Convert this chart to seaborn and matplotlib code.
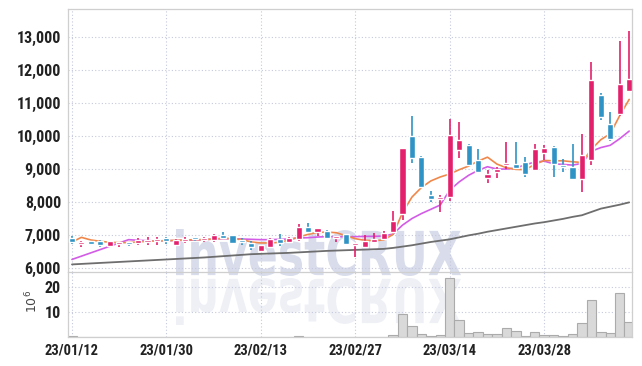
import numpy as np
import pandas as pd
import matplotlib
matplotlib.use('Agg')
import matplotlib.pyplot as plt
import seaborn as sns
from matplotlib import font_manager
from matplotlib.textpath import TextPath
from matplotlib.patches import PathPatch
from matplotlib.font_manager import FontProperties
from matplotlib.transforms import Affine2D

# --- data (KRW, volume in millions) ---
dates = ['23/01/12', '23/01/13', '23/01/16', '23/01/17', '23/01/18', '23/01/19', '23/01/20',
         '23/01/25', '23/01/26', '23/01/27', '23/01/30', '23/01/31', '23/02/01', '23/02/02',
         '23/02/03', '23/02/06', '23/02/07', '23/02/08', '23/02/09', '23/02/10', '23/02/13',
         '23/02/14', '23/02/15', '23/02/16', '23/02/17', '23/02/20', '23/02/21', '23/02/22',
         '23/02/23', '23/02/24', '23/02/27', '23/02/28', '23/03/02', '23/03/03', '23/03/06',
         '23/03/07', '23/03/08', '23/03/09', '23/03/10', '23/03/13', '23/03/14', '23/03/15',
         '23/03/16', '23/03/17', '23/03/20', '23/03/21', '23/03/22', '23/03/23', '23/03/24',
         '23/03/27', '23/03/28', '23/03/29', '23/03/30', '23/03/31', '23/04/03', '23/04/04',
         '23/04/05', '23/04/06', '23/04/07', '23/04/10']

opens = [6920, 6740, 6810, 6820, 6660, 6720, 6780, 6750, 6800, 6820,
         6900, 6700, 6830, 6900, 6850, 6860, 7000, 7000, 6840, 6770,
         6530, 6630, 6880, 6780, 6880, 7240, 7100, 7120, 6900, 7020,
         6690, 6650, 6800, 6870, 7100, 7630, 10000, 9380, 8210, 8080,
         8160, 9580, 9730, 9270, 8740, 8900, 9130, 9140, 9220, 8970,
         9480, 9660, 9120, 9070, 8700, 9270, 11240, 10380, 10670, 11380]
highs = [6980, 6820, 6830, 6850, 6820, 6800, 6800, 6900, 6950, 6940,
         6940, 6880, 6940, 6940, 6940, 7020, 7080, 7010, 6900, 6820,
         6710, 6900, 7020, 6940, 7320, 7380, 7220, 7150, 6970, 7020,
         6720, 7000, 7050, 7130, 7730, 9630, 10600, 9400, 8330, 8210,
         10530, 10430, 9750, 9600, 8970, 9070, 9810, 9810, 9370, 9750,
         9730, 9700, 9290, 9750, 10050, 12230, 11290, 10740, 12880, 13180]
lows = [6740, 6650, 6700, 6650, 6640, 6650, 6680, 6700, 6700, 6700,
        6720, 6680, 6750, 6820, 6780, 6800, 6870, 6740, 6700, 6550,
        6500, 6600, 6680, 6760, 6820, 7080, 6980, 6880, 6780, 6700,
        6340, 6600, 6800, 6870, 7070, 7460, 9190, 8460, 8010, 7710,
        8040, 9320, 9090, 8890, 8590, 8720, 9000, 9000, 8770, 8940,
        9270, 8770, 8920, 8700, 8310, 9120, 10490, 9860, 10620, 11340]
closes = [6800, 6780, 6740, 6700, 6810, 6760, 6720, 6850, 6850, 6840,
          6820, 6860, 6860, 6870, 6870, 6990, 6920, 6750, 6780, 6630,
          6700, 6880, 6770, 6920, 7250, 7100, 7200, 6900, 6940, 6720,
          6720, 6830, 6890, 7050, 7420, 9630, 9340, 8470, 8090, 8130,
          10030, 9880, 9120, 8920, 8850, 9000, 9160, 9020, 8840, 9600,
          9650, 9140, 9050, 8700, 9420, 11700, 10590, 9910, 11570, 11730]

ma5 = [6790, 6930, 6850, 6810, 6780, 6770, 6770, 6790, 6810, 6820,
       6830, 6840, 6850, 6860, 6860, 6880, 6900, 6890, 6860, 6790,
       6760, 6760, 6780, 6850, 6940, 7020, 7080, 7090, 7070, 6980,
       6890, 6840, 6830, 6850, 7020, 7680, 8150, 8440, 8640, 8760,
       8850, 8980, 9090, 9240, 9360, 9150, 9040, 8990, 8980, 9140,
       9260, 9250, 9250, 9220, 9200, 9600, 9890, 10070, 10620, 11110]
ma10 = [6260, 6360, 6460, 6560, 6660, 6760, 6860, 6840, 6830, 6820,
        6830, 6830, 6840, 6850, 6860, 6880, 6890, 6890, 6880, 6870,
        6860, 6860, 6870, 6880, 6910, 6920, 6940, 6950, 6950, 6950,
        6950, 6960, 6960, 6970, 7030, 7300, 7500, 7650, 7780, 7910,
        8360, 8610, 8810, 8960, 9070, 9000, 9000, 9030, 9130, 9210,
        9240, 9160, 9140, 9120, 9170, 9540, 9650, 9720, 9920, 10150]
ma_long = [6110, 6125, 6140, 6155, 6170, 6185, 6200, 6215, 6230, 6245,
           6260, 6275, 6290, 6305, 6320, 6340, 6360, 6380, 6400, 6420,
           6430, 6440, 6450, 6460, 6475, 6490, 6505, 6520, 6530, 6540,
           6550, 6560, 6570, 6580, 6610, 6650, 6690, 6740, 6790, 6830,
           6870, 6930, 6990, 7040, 7100, 7150, 7200, 7250, 7300, 7350,
           7390, 7440, 7490, 7550, 7600, 7700, 7800, 7860, 7920, 7990]

volume = [0.3, 0.06, 0.05, 0.08, 0.06, 0.05, 0.07, 0.05, 0.06, 0.08,
          0.05, 0.06, 0.07, 0.05, 0.06, 0.08, 0.06, 0.05, 0.07, 0.06,
          0.05, 0.07, 0.06, 0.08, 0.35, 0.1, 0.08, 0.06, 0.07, 0.08,
          0.1, 0.08, 0.07, 0.15, 0.8, 9.2, 4.4, 1.3, 0.4, 0.8,
          23.6, 6.8, 1.6, 2.1, 1.3, 1.3, 3.6, 2.5, 0.4, 2.0,
          0.9, 0.8, 0.4, 1.3, 5.7, 14.8, 2.1, 1.7, 17.7, 6.1]

df = pd.DataFrame({'date': dates, 'open': opens, 'high': highs, 'low': lows,
                   'close': closes, 'ma5': ma5, 'ma10': ma10, 'ma_long': ma_long,
                   'volume': volume})
df['pos'] = np.arange(len(df))

RED = '#e3206b'
BLUE = '#2f93c6'
GRID = '#c5c9dc'
EDGE = '#cfcfcf'

sns.set_theme(style='white')

# pick a narrow face for the tick labels if one is installed
faces = [(f.name, f.stretch) for f in font_manager.fontManager.ttflist]
label_family, label_stretch = 'DejaVu Sans', 'normal'
for name in ['Liberation Sans Narrow', 'Roboto Condensed', 'Open Sans Condensed']:
    if any(n == name for n, _ in faces):
        label_family = name
        break
else:
    if any(n == 'DejaVu Sans' and s == 'condensed' for n, s in faces):
        label_stretch = 'condensed'
plt.rcParams['font.family'] = [label_family, 'DejaVu Sans']
plt.rcParams['font.stretch'] = label_stretch

fig = plt.figure(figsize=(6.42, 3.66), dpi=100)
ax = fig.add_axes([68 / 642, 94 / 366, 564 / 642, 263 / 366])
axv = fig.add_axes([68 / 642, 29 / 366, 564 / 642, 65 / 366])
for a in (ax, axv):
    a.set_facecolor('none')

# watermark with reflection, behind the axes
wm_prop = FontProperties(family='DejaVu Sans', weight='bold', stretch='normal')
tp = TextPath((0, 0), 'investCRUX', size=100, prop=wm_prop)
ext = tp.get_extents()
sx = (461 - 176) / ext.width
sy = (276 - 229) / ext.height
t_main = Affine2D().translate(-ext.x0, -ext.y0).scale(sx, sy).translate(176, 366 - 276)
t_refl = Affine2D().translate(-ext.x0, -ext.y0).scale(sx, -sy).translate(176, 366 - 278)
fig.add_artist(PathPatch(tp, transform=t_main, facecolor='#bec6de', edgecolor='none',
                         alpha=0.6, zorder=-1))
fig.add_artist(PathPatch(tp, transform=t_refl, facecolor='#c8cee2', edgecolor='none',
                         alpha=0.3, zorder=-1))

# moving averages
sns.lineplot(data=df, x='pos', y='ma_long', ax=ax, color='#6e6e6e', lw=1.3, zorder=2)
sns.lineplot(data=df, x='pos', y='ma10', ax=ax, color='#d35ce6', lw=1.2, zorder=3)
sns.lineplot(data=df, x='pos', y='ma5', ax=ax, color='#f0874a', lw=1.2, zorder=4)

# candles on top
up = df['close'] >= df['open']
cols = np.where(up, RED, BLUE)
body_lo = np.minimum(df['open'], df['close'])
body_h = np.maximum((df['close'] - df['open']).abs(), 60)
ax.vlines(df['pos'], df['low'], df['high'], colors=cols, lw=1.2, zorder=5)
ax.bar(df['pos'], body_h, bottom=body_lo, width=0.65, color=cols, zorder=6)

# volume
sns.barplot(data=df, x='pos', y='volume', ax=axv, native_scale=True, width=1.0,
            color='#d9d9d9', edgecolor='#ababab', linewidth=0.8, errorbar=None,
            saturation=1)

tick_pos = list(range(0, 60, 10))
for a in (ax, axv):
    a.set_xlim(-0.42, 59.3)
    a.set_xticks(tick_pos)
    a.grid(True, color=GRID, linestyle=(0, (1, 2)), lw=0.8)
    a.set_xlabel('')
    a.set_ylabel('')
    a.tick_params(length=0)
    for s in a.spines.values():
        s.set_color(EDGE)
        s.set_linewidth(0.9)

ax.set_ylim(5880, 13850)
ax.set_yticks(range(6000, 14000, 1000))
ax.set_yticklabels([f'{v:,}' for v in range(6000, 14000, 1000)], fontsize=11.5,
                   fontweight='bold', color='#222222')
ax.tick_params(axis='y', pad=5)
ax.set_xticklabels([])

axv.set_ylim(0, 26.1)
axv.set_yticks([10, 20])
axv.set_yticklabels(['10', '20'], fontsize=11.5, fontweight='bold', color='#222222')
axv.tick_params(axis='y', pad=5)
axv.set_xticklabels([dates[i] for i in tick_pos], fontsize=10.5, fontweight='bold',
                    color='#222222')
axv.tick_params(axis='x', pad=5)
axv.spines['top'].set_visible(False)

fig.text(32 / 642, 1 - 301 / 366, r'$10^6$', rotation=90, ha='center', va='center',
         fontsize=9, color='#444444')

fig.savefig('out.png', dpi=100)
